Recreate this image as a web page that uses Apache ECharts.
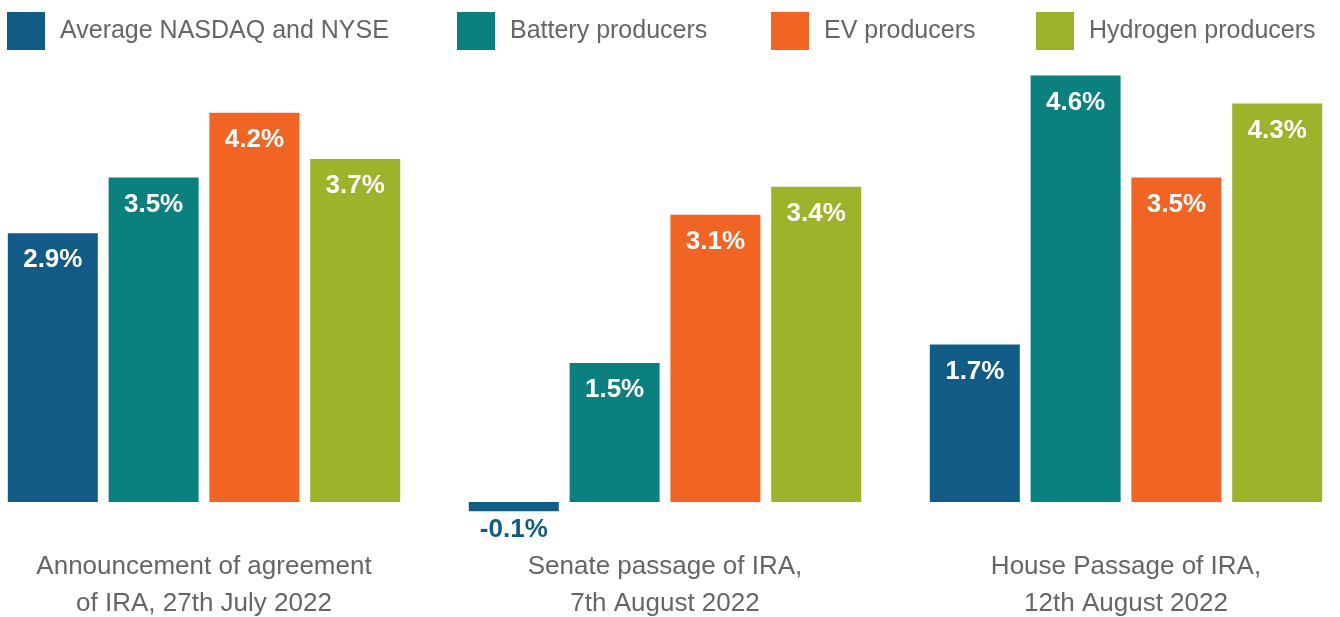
<!DOCTYPE html>
<html>
<head>
<meta charset="utf-8">
<script src="https://cdn.jsdelivr.net/npm/echarts@6/dist/echarts.min.js"></script>
<style>
  html, body { margin: 0; padding: 0; background: #fff; }
  #chart { width: 1340px; height: 617px; }
</style>
</head>
<body>
<div id="chart"></div>
<script>
const categories = [
  "Announcement of agreement\nof IRA, 27th July 2022",
  "Senate passage of IRA,\n7th August 2022",
  "House Passage of IRA,\n12th August 2022"
];
const seriesNames = ["Average NASDAQ and NYSE", "Battery producers", "EV producers", "Hydrogen producers"];
const nasdaqNyse = [2.9, -0.1, 1.7];
const battery = [3.5, 1.5, 4.6];
const ev = [4.2, 3.1, 3.5];
const hydrogen = [3.7, 3.4, 4.3];
const colors = ["#115b87", "#0a817e", "#f26424", "#9eb32a"];
const legendLeft = [7, 457, 771, 1036];

const font = "'Liberation Sans', Arial, sans-serif";
const chart = echarts.init(document.getElementById("chart"));

const makeData = (vals, color) => vals.map(v => v < 0
  ? { value: v, label: { position: "bottom", distance: 6, color: color } }
  : v);

const allSeries = [nasdaqNyse, battery, ev, hydrogen].map((vals, i) => ({
  name: seriesNames[i],
  type: "bar",
  data: makeData(vals, colors[i]),
  barWidth: 90,
  barGap: "12%",
  clip: false,
  itemStyle: { color: colors[i] },
  label: {
    show: true,
    position: "insideTop",
    distance: 14,
    color: "#fff",
    fontFamily: font,
    fontWeight: "bold",
    fontSize: 26,
    formatter: p => p.value.toFixed(1) + "%"
  }
}));

const option = {
  animation: false,
  legend: seriesNames.map((n, i) => ({
    data: [n],
    left: legendLeft[i],
    top: 12,
    padding: 0,
    itemWidth: 38,
    itemHeight: 38,
    icon: "rect",
    itemGap: 0,
    textStyle: { color: "#666", fontSize: 25, fontFamily: font, padding: [3, 0, 0, 10] },
    selectedMode: false
  })),
  grid: {
    left: -26.5, right: -16.5, top: 38.5, bottom: 115,
    outerBoundsMode: "none"
  },
  xAxis: {
    type: "category",
    data: categories,
    position: "bottom",
    axisLine: { show: false, onZero: false },
    axisTick: { show: false },
    axisLabel: {
      show: true,
      color: "#666",
      fontSize: 26,
      fontFamily: font,
      lineHeight: 37,
      margin: 46,
      interval: 0,
      hideOverlap: false
    }
  },
  yAxis: {
    type: "value",
    min: 0,
    max: 5,
    show: false,
    splitLine: { show: false }
  },
  series: allSeries
};

chart.setOption(option);
</script>
</body>
</html>
